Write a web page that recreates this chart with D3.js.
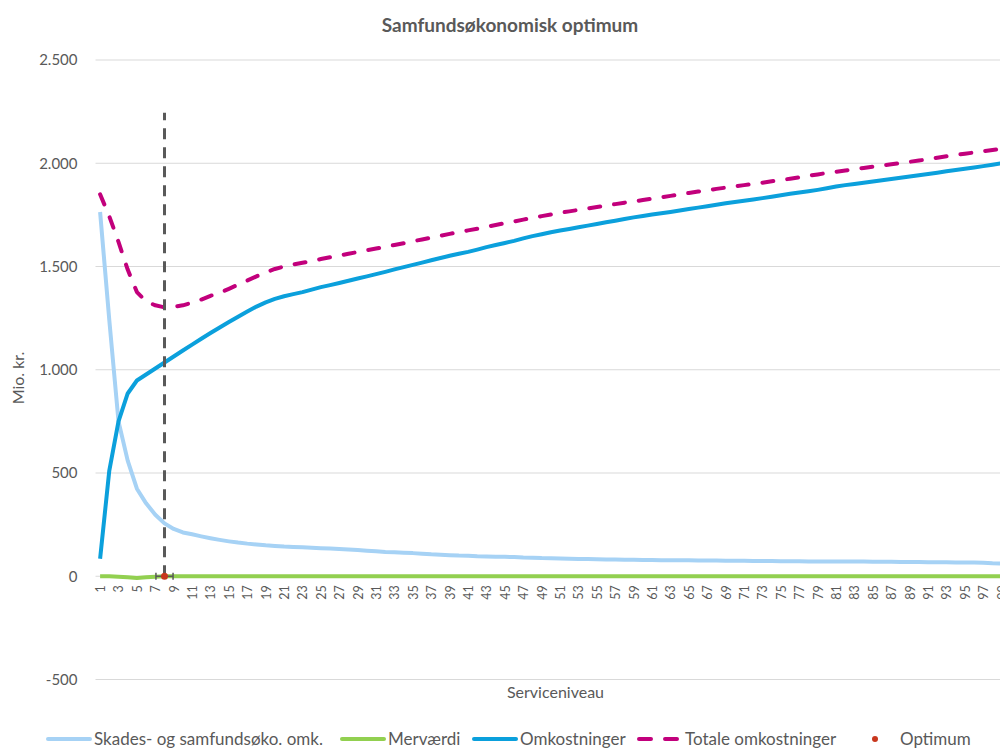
<!DOCTYPE html>
<html>
<head>
<meta charset="utf-8">
<script src="https://cdn.jsdelivr.net/npm/d3@7"></script>
<style>
  html, body { margin: 0; padding: 0; background: #fff; }
  svg { display: block; }
  text { font-family: Lato, "Open Sans", sans-serif; fill: #595959; }
</style>
</head>
<body>
<script>
// ---------- data ----------
const categories = d3.range(1, 101);
const yTicks = [-500, 0, 500, 1000, 1500, 2000, 2500];

const skades = [
  1764, 1240, 750, 560, 424, 353, 298, 256, 229, 212,
  203, 193, 184, 176, 169, 163, 158, 154, 150, 147,
  144, 142, 140, 138, 136, 134, 132, 130, 127, 124,
  121, 118, 116, 114, 112, 109, 106, 104, 102, 100,
  99, 97, 96, 95, 94, 93, 91, 90, 88, 87,
  86, 85, 84, 83, 82, 81, 81, 80, 80, 79,
  79, 78, 78, 77, 77, 76, 76, 76, 75, 75,
  75, 74, 74, 74, 73, 73, 73, 72, 72, 72,
  72, 71, 71, 71, 70, 70, 70, 69, 69, 69,
  68, 68, 68, 67, 67, 66, 65, 63, 62, 61
];

const mervaerdi = [
  0, 0, -2, -5, -8, -5, -2, 0, 0, 0,
  0, 0, 0, 0, 0, 0, 0, 0, 0, 0,
  0, 0, 0, 0, 0, 0, 0, 0, 0, 0,
  0, 0, 0, 0, 0, 0, 0, 0, 0, 0,
  0, 0, 0, 0, 0, 0, 0, 0, 0, 0,
  0, 0, 0, 0, 0, 0, 0, 0, 0, 0,
  0, 0, 0, 0, 0, 0, 0, 0, 0, 0,
  0, 0, 0, 0, 0, 0, 0, 0, 0, 0,
  0, 0, 0, 0, 0, 0, 0, 0, 0, 0,
  0, 0, 0, 0, 0, 0, 0, 0, 0, 0
];

const omkostninger = [
  85, 512, 750, 885, 948, 977, 1006, 1035, 1064, 1093,
  1122, 1150, 1178, 1205, 1231, 1257, 1282, 1306, 1326, 1343,
  1356, 1366, 1376, 1388, 1400, 1410, 1420, 1431, 1442, 1452,
  1463, 1474, 1486, 1497, 1508, 1519, 1530, 1541, 1552, 1562,
  1571, 1582, 1594, 1604, 1614, 1624, 1636, 1647, 1656, 1666,
  1674, 1682, 1690, 1698, 1706, 1714, 1722, 1730, 1738, 1745,
  1752, 1758, 1764, 1771, 1778, 1785, 1792, 1799, 1806, 1812,
  1818, 1824, 1831, 1838, 1845, 1852, 1858, 1864, 1871, 1879,
  1887, 1894, 1900, 1906, 1912, 1918, 1924, 1930, 1936, 1942,
  1948, 1954, 1961, 1967, 1973, 1979, 1986, 1993, 2000, 2006
];

const totale = [
  1850, 1743, 1619, 1485, 1376, 1331, 1312, 1302, 1305, 1312,
  1325, 1340, 1358, 1373, 1392, 1412, 1432, 1452, 1472, 1488,
  1500, 1510, 1518, 1527, 1536, 1545, 1553, 1562, 1570, 1579,
  1587, 1596, 1604, 1613, 1622, 1631, 1640, 1649, 1658, 1667,
  1675, 1683, 1692, 1701, 1710, 1718, 1727, 1736, 1744, 1752,
  1760, 1767, 1774, 1781, 1788, 1795, 1802, 1809, 1815, 1822,
  1829, 1835, 1842, 1849, 1856, 1863, 1869, 1876, 1882, 1888,
  1894, 1900, 1906, 1913, 1919, 1925, 1932, 1939, 1946, 1953,
  1959, 1965, 1971, 1977, 1983, 1989, 1995, 2001, 2007, 2013,
  2020, 2027, 2034, 2040, 2046, 2052, 2058, 2064, 2070, 2076
];

const optimumCategory = [8];
const optimumValue = [0];
const optimumErrorY = [2245];
const optimumErrorX = [0.93];

const seriesNames = ["Skades- og samfundsøko. omk.", "Merværdi", "Omkostninger", "Totale omkostninger", "Optimum"];
const titleText = "Samfundsøkonomisk optimum";
const yTitle = "Mio. kr.";
const xTitle = "Serviceniveau";

// ---------- layout ----------
const W = 1000, H = 749;
const plot = { left: 95.5, right: 1015.5, top: 60, bottom: 679.5 };

const svg = d3.select("body").append("svg").attr("width", W).attr("height", H);

const x = d3.scalePoint().domain(categories).range([plot.left, plot.right]).padding(0.5);
const step = x.step();
const y = d3.scaleLinear().domain([-500, 2500]).range([plot.bottom, plot.top]);

// gridlines
svg.append("g").selectAll("line").data(yTicks).join("line")
  .attr("x1", plot.left).attr("x2", plot.right)
  .attr("y1", d => y(d)).attr("y2", d => y(d))
  .attr("stroke", "#d9d9d9").attr("stroke-width", 1);

// y axis labels
const yAxis = d3.axisLeft(y).tickValues(yTicks).tickSize(0).tickPadding(0)
  .tickFormat(d => d3.format(",")(d).replace(/,/g, ".").replace("\u2212", "-"));
const gy = svg.append("g").attr("transform", `translate(${plot.left - 18},0)`).call(yAxis);
gy.select(".domain").remove();
gy.selectAll("text").style("font-family", "Lato, sans-serif").style("font-size", "15px").attr("fill", "#595959");

// x axis labels
const xAxis = d3.axisBottom(x).tickValues(categories.filter(c => c % 2 === 1)).tickSize(0).tickPadding(0);
const gx = svg.append("g").attr("transform", `translate(0,${y(0)})`).call(xAxis);
gx.select(".domain").remove();
gx.selectAll("text")
  .style("font-family", "Lato, sans-serif").style("font-size", "12.5px").attr("fill", "#595959")
  .attr("transform", "rotate(-90)")
  .attr("text-anchor", "end")
  .attr("x", -9).attr("y", 0).attr("dy", "0.35em");

// lines
const lineGen = vals => d3.line().x((d, i) => x(categories[i])).y(d => y(d))(vals);

svg.append("path").attr("d", lineGen(skades)).attr("fill", "none")
  .attr("stroke", "#a6d2f5").attr("stroke-width", 4).attr("stroke-linejoin", "round");
svg.append("path").attr("d", lineGen(mervaerdi)).attr("fill", "none")
  .attr("stroke", "#92d050").attr("stroke-width", 4).attr("stroke-linejoin", "round");
svg.append("path").attr("d", lineGen(omkostninger)).attr("fill", "none")
  .attr("stroke", "#0ba0dc").attr("stroke-width", 4).attr("stroke-linejoin", "round");
svg.append("path").attr("d", lineGen(totale)).attr("fill", "none")
  .attr("stroke", "#c2007c").attr("stroke-width", 4).attr("stroke-linejoin", "round")
  .attr("stroke-linecap", "round").attr("stroke-dasharray", "11,14");

// optimum with error bars
const oi = 0;
const ox = x(optimumCategory[oi]), oy = y(optimumValue[oi]);
svg.append("line")
  .attr("x1", ox).attr("x2", ox)
  .attr("y1", oy).attr("y2", y(optimumValue[oi] + optimumErrorY[oi]))
  .attr("stroke", "#595959").attr("stroke-width", 3).attr("stroke-dasharray", "11,8");
const exL = ox - optimumErrorX[oi] * step, exR = ox + optimumErrorX[oi] * step;
svg.append("line").attr("x1", exL).attr("x2", exR).attr("y1", oy).attr("y2", oy)
  .attr("stroke", "#595959").attr("stroke-width", 1.5);
[exL, exR].forEach(cx => {
  svg.append("line").attr("x1", cx).attr("x2", cx).attr("y1", oy - 3.5).attr("y2", oy + 3.5)
    .attr("stroke", "#595959").attr("stroke-width", 1.5);
});
svg.append("circle").attr("cx", ox).attr("cy", oy).attr("r", 3.5).attr("fill", "#c8371e");

// titles
svg.append("text").attr("x", 510).attr("y", 32).attr("text-anchor", "middle")
  .style("font-size", "19px").style("font-weight", "bold").attr("fill", "#404040").text(titleText);
svg.append("text").attr("transform", `translate(24,${378}) rotate(-90)`).attr("text-anchor", "middle")
  .style("font-size", "16px").text(yTitle);
svg.append("text").attr("x", (plot.left + plot.right) / 2).attr("y", 698).attr("text-anchor", "middle")
  .style("font-size", "16px").text(xTitle);

// legend
const ly = 739;
const legend = svg.append("g");
const items = [
  { name: seriesNames[0], x0: 48, x1: 90, tx: 94, color: "#a6d2f5", type: "line" },
  { name: seriesNames[1], x0: 342, x1: 384, tx: 388, color: "#92d050", type: "line" },
  { name: seriesNames[2], x0: 474, x1: 516, tx: 520, color: "#0ba0dc", type: "line" },
  { name: seriesNames[3], x0: 639, x1: 680, tx: 685, color: "#c2007c", type: "dash" },
  { name: seriesNames[4], x0: 875, x1: 875, tx: 900, color: "#c8371e", type: "dot" }
];
items.forEach(it => {
  if (it.type === "dot") {
    legend.append("circle").attr("cx", it.x0).attr("cy", ly).attr("r", 3).attr("fill", it.color);
  } else {
    const l = legend.append("line").attr("x1", it.x0).attr("x2", it.x1).attr("y1", ly).attr("y2", ly)
      .attr("stroke", it.color).attr("stroke-width", 4).attr("stroke-linecap", "round");
    if (it.type === "dash") l.attr("stroke-dasharray", "12,14");
  }
  legend.append("text").attr("x", it.tx).attr("y", ly).attr("dy", "0.35em")
    .style("font-size", "17px").text(it.name);
});
</script>
</body>
</html>
